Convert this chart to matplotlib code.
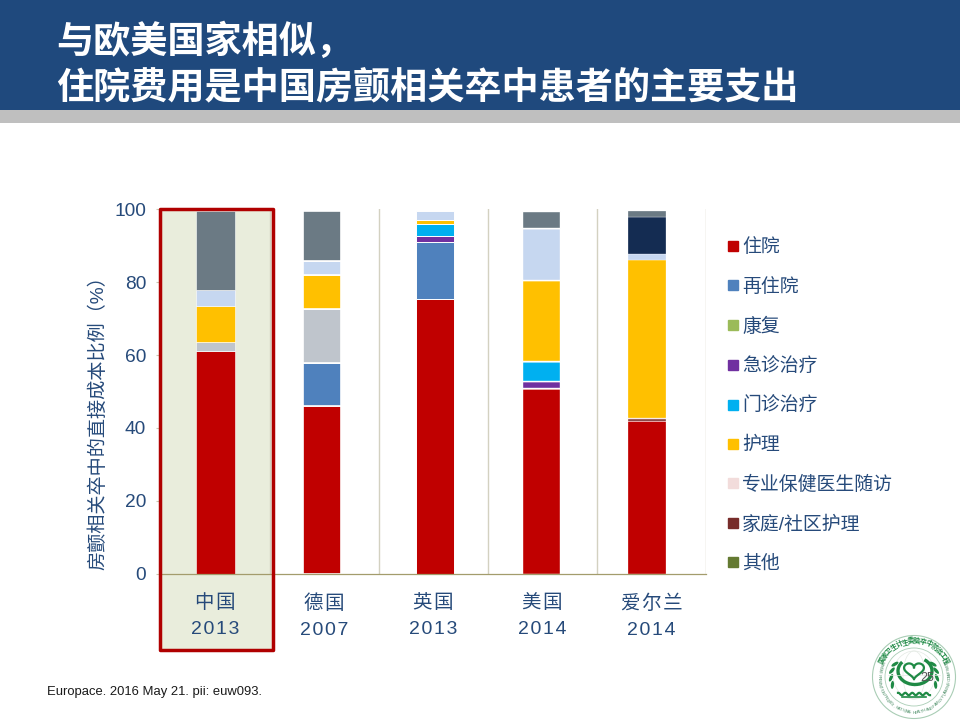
import numpy as np
import matplotlib
matplotlib.use("Agg")
import matplotlib.pyplot as plt
from matplotlib.patches import Rectangle, Circle, Arc, Ellipse
from matplotlib.lines import Line2D

FONT = ['Liberation Sans', 'Noto Sans CJK SC', 'DejaVu Sans']
plt.rcParams['font.family'] = FONT

title_lines = ["与欧美国家相似，", "住院费用是中国房颤相关卒中患者的主要支出"]
countries = ["中国", "德国", "英国", "美国", "爱尔兰"]
years = ["2013", "2007", "2013", "2014", "2014"]
ylabel = "房颤相关卒中的直接成本比例（%）"
footnote = "Europace. 2016 May 21. pii: euw093."
emblem_cn = "国家卫生计生委脑卒中防治工程"
emblem_en = "STROKE PREVENTION PROJECT, NATIONAL HEALTH AND FAMILY PLANNING COMMISSION"

# stacked segment heights, bottom to top, one value per country
hospital      = [61.1, 46.0, 75.3, 51.0, 41.9]
readmission   = [0.0, 11.9, 15.7, 0.0, 0.0]
rehab         = [0.0, 0.0, 0.0, 0.0, 0.0]
unnamed_grey  = [2.5, 14.8, 0.0, 0.0, 0.0]
emergency     = [0.0, 0.0, 1.6, 1.9, 0.0]
outpatient    = [0.0, 0.0, 3.4, 5.5, 0.0]
home_care     = [0.0, 0.0, 0.0, 0.0, 0.5]
specialist    = [0.0, 0.0, 0.0, 0.0, 0.2]
nursing       = [9.8, 9.2, 1.0, 22.2, 43.4]
unnamed_light = [4.4, 3.9, 2.5, 14.3, 1.7]
unnamed_navy  = [0.0, 0.0, 0.0, 0.0, 10.3]
other_slate   = [21.7, 13.7, 0.0, 4.6, 1.5]

stack = [
    (hospital, '#C00000'), (readmission, '#4F81BD'), (rehab, '#9BBB59'),
    (unnamed_grey, '#BFC5CC'), (emergency, '#7030A0'), (outpatient, '#00B0F0'),
    (home_care, '#772C2A'), (specialist, '#F2DCDB'), (nursing, '#FFC000'),
    (unnamed_light, '#C6D7F0'), (unnamed_navy, '#142C52'), (other_slate, '#6B7A84'),
]
legend_labels = ["住院", "再住院", "康复", "急诊治疗", "门诊治疗", "护理",
                 "专业保健医生随访", "家庭/社区护理", "其他"]
legend_colors = ['#C00000', '#4F81BD', '#9BBB59', '#7030A0', '#00B0F0', '#FFC000',
                 '#F2DCDB', '#772C2A', '#647A32']
bar_centers = [0.5, 1.475, 2.51, 3.485, 4.455]
edge_widths = [0.4, 1.2, 0.7, 1.0, 0.2]
TEXT = '#264A7A'

W, H = 960, 720
fig = plt.figure(figsize=(9.6, 7.2), dpi=100, facecolor='white')

# slide decoration layer in pixel coordinates
bg = fig.add_axes([0, 0, 1, 1], zorder=0)
bg.set_xlim(0, W); bg.set_ylim(H, 0); bg.axis('off')
bg.add_patch(Rectangle((0, 0), W, 110, fc='#1F497D', ec='none'))
bg.add_patch(Rectangle((0, 110), W, 13, fc='#BFBFBF', ec='none'))
bg.text(56.5, 42, title_lines[0], color='white', fontsize=26.75, weight='bold', va='center', family=['Noto Sans CJK SC'])
bg.text(56.5, 88.5, title_lines[1], color='white', fontsize=26.75, weight='bold', va='center', family=['Noto Sans CJK SC'])
bg.add_patch(Rectangle((160, 210), 113, 440, fc='#E9EDDC', ec='none'))
bg.text(47, 692, footnote, fontsize=9.4, color='#1a1a1a', va='center')

# main chart
L, R, T, B = 161, 706, 209.3, 573.6
ax = fig.add_axes([L / W, 1 - B / H, (R - L) / W, (B - T) / H], zorder=2)
ax.patch.set_alpha(0)
ax.set_xlim(0, 5); ax.set_ylim(0, 100)
for k in range(1, 6):
    ax.axvline(k, color='#D3D1C1', lw=1.0, zorder=1)
bottom = np.zeros(5)
for vals, col in stack:
    vals = np.array(vals)
    ax.bar(bar_centers, vals, width=0.35, bottom=bottom, color=col, edgecolor='white',
           linewidth=edge_widths, zorder=3)
    bottom = bottom + vals
for s in ['top', 'right']:
    ax.spines[s].set_visible(False)
ax.spines['left'].set_color('#C9C7AE')
ax.spines['bottom'].set_color('#A39C6C')
ax.spines['bottom'].set_linewidth(0.9)
ax.spines['bottom'].set_zorder(4)
ax.set_yticks([0, 20, 40, 60, 80, 100])
ax.tick_params(axis='y', colors='#C9C7AE', labelcolor=TEXT, labelsize=13.8, length=3.6, pad=7.2)
ax.set_xticks(np.arange(len(countries)) + 0.5)
sp = '\u200a'
ax.set_xticklabels([sp.join(c) + "\n" + sp.join(y) for c, y in zip(countries, years)],
                   fontsize=14, color=TEXT, linespacing=1.7)
ax.tick_params(axis='x', length=0, pad=15)
bg.text(98, 418, ylabel, rotation=90, ha='center', va='center', fontsize=13.8, color=TEXT)

# red highlight frame above the chart
top = fig.add_axes([0, 0, 1, 1], zorder=3)
top.set_xlim(0, W); top.set_ylim(H, 0); top.axis('off')
top.add_patch(Rectangle((160, 209.3), 113, 440.4, fc='none', ec='#B00000', lw=2.5, joinstyle='round'))

# legend
handles = [Line2D([], [], marker='s', ls='none', color=c, markersize=7) for c in legend_colors]
top.legend(handles, legend_labels, loc='upper left', bbox_to_anchor=(724 / W, 1 - 238.5 / H),
           bbox_transform=fig.transFigure, frameon=False, fontsize=13.6, labelcolor=TEXT,
           handletextpad=0.0, labelspacing=1.145, borderpad=0, borderaxespad=0, handlelength=0.95)

# emblem
cx, cy = 914, 677
G = '#1F8A45'
top.add_patch(Circle((cx, cy), 41.5, fc='white', ec='#A9CDB5', lw=0.8, clip_on=True))
top.add_patch(Circle((cx, cy), 29, fc='white', ec='#A9CDB5', lw=0.6))
for r_ in (21, 11):
    top.add_patch(Ellipse((cx, cy - 2), r_ * 2, 48, fc='none', ec='#E3E9E3', lw=0.5))
top.plot([cx - 26, cx + 26], [cy - 2, cy - 2], color='#E3E9E3', lw=0.5)
top.add_patch(Arc((cx + 1, cy - 6), 34, 27, theta1=-50, theta2=215, ec=G, lw=2.4))
t = np.linspace(0, 2 * np.pi, 120)
top.plot(cx + 0.62 * 16 * np.sin(t) ** 3,
         cy - 7 + 0.55 * (-(13 * np.cos(t) - 5 * np.cos(2 * t) - 2 * np.cos(3 * t) - np.cos(4 * t))),
         color=G, lw=1.6)
for side in (-1, 1):
    for a in (20, 38, 56, 74):
        ang = np.deg2rad(90 + side * (a + 50))
        top.add_patch(Ellipse((cx + 23 * np.cos(ang), cy + 23 * np.sin(ang)), 8, 3.2,
                              angle=np.rad2deg(ang) + 90 + side * 25, fc=G, ec='none'))
wave_x = np.linspace(cx - 16, cx + 16, 60)
top.plot(wave_x, cy + 17 + 1.2 * np.sin((wave_x - cx) * 0.9), color=G, lw=1.6)
top.plot(wave_x[8:-8], [cy + 20] * len(wave_x[8:-8]), color=G, lw=1.2)

for i, ch in enumerate(emblem_cn):
    deg = -90 + (i - (len(emblem_cn) - 1) / 2) * 9.6
    a = np.deg2rad(deg)
    top.text(cx + 35.5 * np.cos(a), cy + 35.5 * np.sin(a), ch, fontsize=5, color=G, weight='bold',
             rotation=-deg - 90, ha='center', va='center', rotation_mode='anchor')
for i, ch in enumerate(emblem_en):
    deg = 90 - (i - (len(emblem_en) - 1) / 2) * 3.2
    a = np.deg2rad(deg)
    top.text(cx + 35.5 * np.cos(a), cy + 35.5 * np.sin(a), ch, fontsize=2.9, color='#4D8F68',
             rotation=-deg + 90, ha='center', va='center', rotation_mode='anchor')
top.text(927, 678, "25", fontsize=9, color='#555555', ha='center', va='center')

fig.savefig('out.png', dpi=100)
